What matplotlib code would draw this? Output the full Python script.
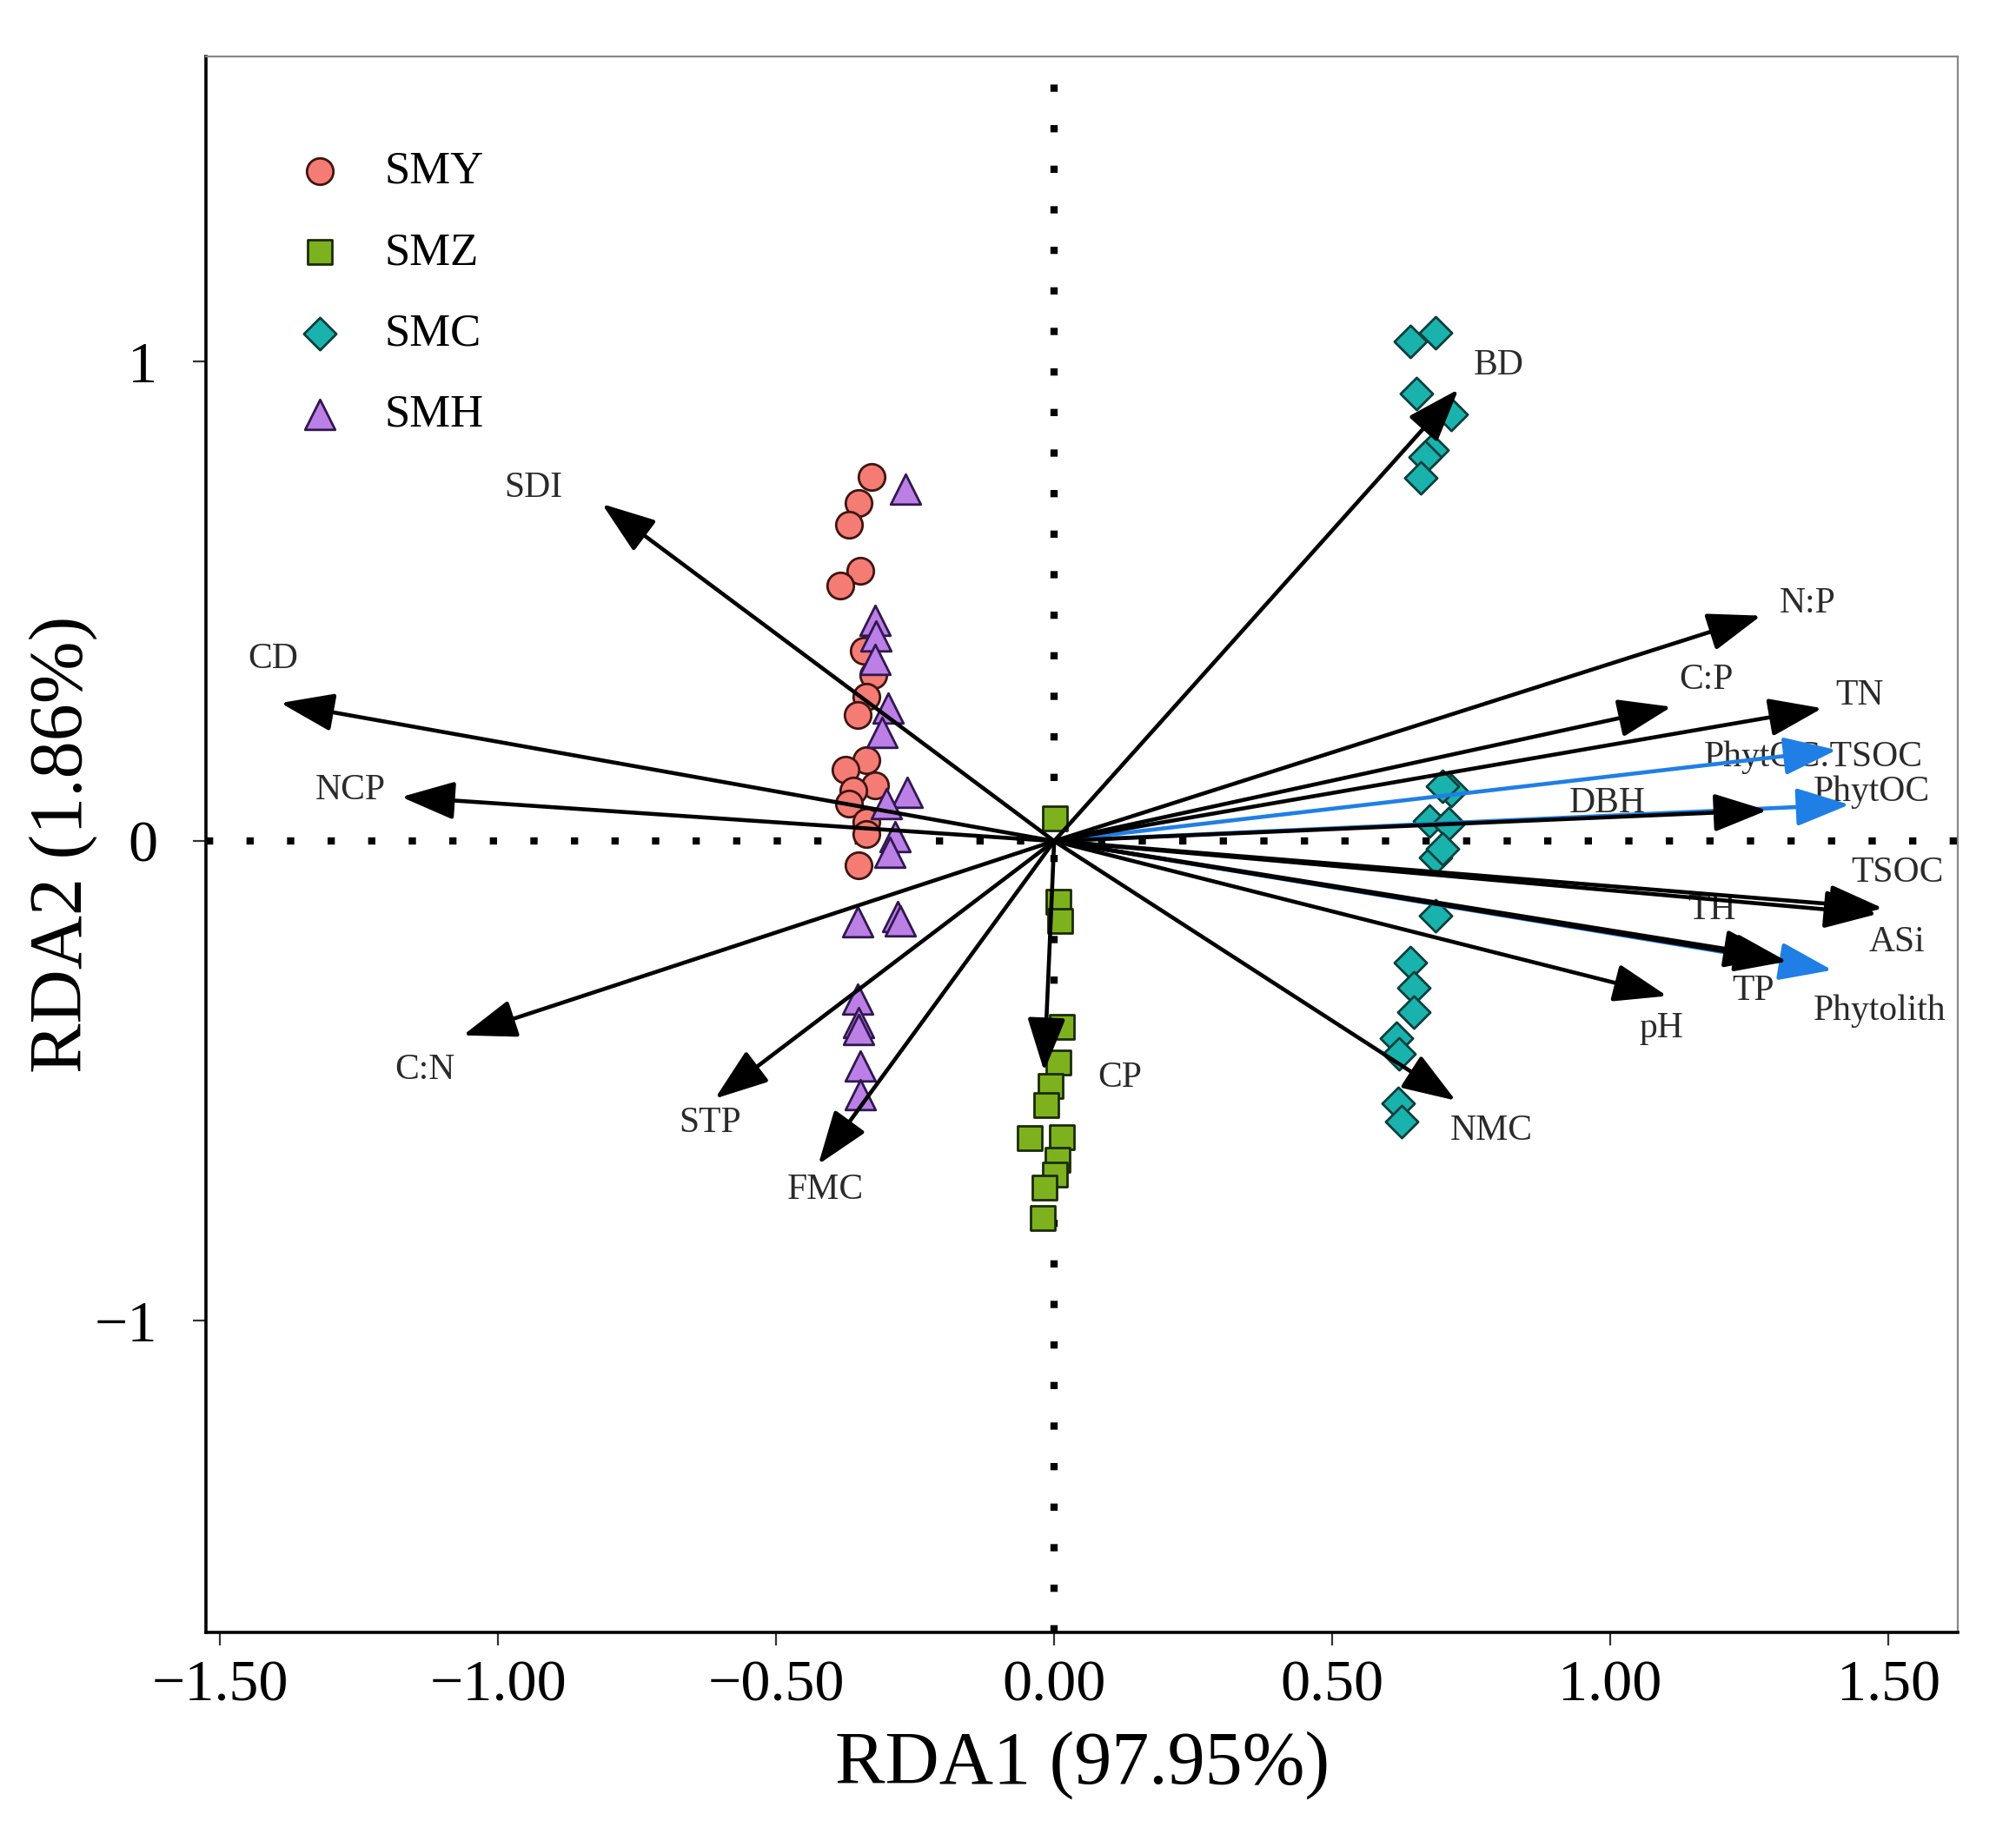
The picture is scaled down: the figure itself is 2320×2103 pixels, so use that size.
import matplotlib
matplotlib.use("Agg")
import matplotlib.pyplot as plt
from matplotlib.ticker import FixedLocator, FuncFormatter

plt.rcParams['font.family'] = ['Liberation Serif', 'DejaVu Serif']
plt.rcParams['axes.unicode_minus'] = True

# 样点得分 (RDA1, RDA2)
smy_x = [-0.328, -0.351, -0.369, -0.348, -0.385, -0.343, -0.325, -0.338, -0.354,
         -0.338, -0.375, -0.322, -0.361, -0.369, -0.338, -0.338, -0.351]
smy_y = [0.759, 0.705, 0.660, 0.563, 0.533, 0.397, 0.346, 0.301, 0.263,
         0.168, 0.149, 0.117, 0.105, 0.079, 0.041, 0.015, -0.051]

smz_x = [0.001, 0.008, 0.011, 0.014, 0.008, -0.007, -0.015, -0.044, 0.014,
         0.006, 0.001, -0.018, -0.020]
smz_y = [0.048, -0.127, -0.167, -0.387, -0.462, -0.511, -0.550, -0.620, -0.617,
         -0.665, -0.695, -0.722, -0.785]

smc_x = [0.641, 0.685, 0.652, 0.680, 0.667, 0.659, 0.714, 0.714, 0.698, 0.675,
         0.709, 0.685, 0.698, 0.685, 0.641, 0.646, 0.646, 0.615, 0.620, 0.618, 0.625]
smc_y = [1.042, 1.060, 0.933, 0.815, 0.800, 0.757, 0.890, 0.105, 0.114, 0.042,
         0.036, -0.034, -0.016, -0.155, -0.254, -0.305, -0.357, -0.411, -0.444,
         -0.547, -0.585]

smh_x = [-0.268, -0.322, -0.320, -0.322, -0.299, -0.309, -0.265, -0.302, -0.286,
         -0.296, -0.354, -0.281, -0.276, -0.353, -0.351, -0.351, -0.348, -0.348]
smh_y = [0.734, 0.460, 0.428, 0.378, 0.277, 0.226, 0.102, 0.079, 0.009,
         -0.023, -0.169, -0.158, -0.167, -0.330, -0.378, -0.393, -0.469, -0.529]

# 环境因子向量
vec_names = ['BD', 'SDI', 'CD', 'NCP', 'C:N', 'STP', 'FMC', 'CP', 'NMC', 'pH',
             'TH', 'TP', 'TSOC', 'ASi', 'DBH', 'TN', 'C:P', 'N:P',
             'PhytOC:TSOC', 'PhytOC', 'Phytolith']
vec_x = [0.727, -0.813, -1.391, -1.174, -1.063, -0.610, -0.424, -0.018, 0.722, 1.102,
         1.300, 1.318, 1.490, 1.480, 1.282, 1.381, 1.110, 1.271,
         1.407, 1.430, 1.399]
vec_y = [0.942, 0.703, 0.288, 0.092, -0.405, -0.537, -0.674, -0.480, -0.541, -0.323,
         -0.242, -0.251, -0.140, -0.152, 0.064, 0.277, 0.280, 0.470,
         0.190, 0.076, -0.269]
vec_blue = ['PhytOC:TSOC', 'PhytOC', 'Phytolith']
lab_x = [0.800, -0.936, -1.405, -1.266, -1.132, -0.619, -0.411, 0.118, 0.786, 1.091,
         1.183, 1.256, 1.516, 1.516, 0.995, 1.448, 1.172, 1.355,
         1.365, 1.469, 1.484]
lab_y = [0.991, 0.736, 0.379, 0.106, -0.478, -0.588, -0.728, -0.493, -0.604, -0.390,
         -0.145, -0.312, -0.067, -0.212, 0.078, 0.304, 0.335, 0.495,
         0.175, 0.103, -0.355]

x_ticks = [-1.5, -1.0, -0.5, 0.0, 0.5, 1.0, 1.5]
y_ticks = [-1, 0, 1]

fig = plt.figure(figsize=(23.2, 21.03), dpi=100)
ax = fig.add_axes([0.1022, 0.1065, 0.8690, 0.8626])

ax.axvline(0, color='black', lw=6, ls=(0, (1, 4.6)), dash_capstyle='butt', zorder=1)
ax.axhline(0, color='black', lw=6, ls=(0, (1, 4.6)), dash_capstyle='butt', zorder=1)

ax.scatter(smy_x, smy_y, s=480, marker='o', c='#f47c74', edgecolors='#3e1512',
           linewidths=2.0, label='SMY', zorder=3)
ax.scatter(smz_x, smz_y, s=380, marker='s', c='#7db21e', edgecolors='#1a2b00',
           linewidths=2.0, label='SMZ', zorder=3)
ax.scatter(smc_x, smc_y, s=360, marker='D', c='#1ab2ac', edgecolors='#0b403d',
           linewidths=2.0, label='SMC', zorder=3)
ax.scatter(smh_x, smh_y, s=620, marker='^', c='#bb7fe6', edgecolors='#301850',
           linewidths=2.0, label='SMH', zorder=3)

# 箭头: 先画蓝色再画黑色
order = [i for i, n in enumerate(vec_names) if n in vec_blue] + \
        [i for i, n in enumerate(vec_names) if n not in vec_blue]
for i in order:
    col = '#1f7fe5' if vec_names[i] in vec_blue else 'black'
    ax.annotate('', xy=(vec_x[i], vec_y[i]), xytext=(0, 0),
                arrowprops=dict(arrowstyle='-|>,head_length=1.9,head_width=0.68',
                                mutation_scale=20, lw=3.3, color=col,
                                shrinkA=0, shrinkB=0),
                zorder=4)
for i, n in enumerate(vec_names):
    ax.text(lab_x[i], lab_y[i], n, ha='center', va='center', fontsize=30,
            color='#2a2a2a', zorder=3.5)

ax.set_xlim(-1.525, 1.625)
ax.set_ylim(-1.650, 1.636)

ax.xaxis.set_major_locator(FixedLocator(x_ticks))
ax.yaxis.set_major_locator(FixedLocator(y_ticks))
ax.xaxis.set_major_formatter(FuncFormatter(lambda v, p: f"{v:.2f}".replace('-', '\u2212')))
ax.yaxis.set_major_formatter(FuncFormatter(lambda v, p: f"{v:.0f}".replace('-', '\u2212')))
ax.tick_params(axis='both', direction='out', length=11, width=1.6, labelsize=49,
               color='#333333')
ax.tick_params(axis='x', pad=12)
ax.tick_params(axis='y', pad=29)

for side in ['left', 'bottom']:
    ax.spines[side].set_linewidth(2.6)
    ax.spines[side].set_color('black')
for side in ['top', 'right']:
    ax.spines[side].set_linewidth(1.6)
    ax.spines[side].set_color('#888888')

ax.set_xlabel('RDA1 (97.95%)', fontsize=62)
ax.set_ylabel('RDA2 (1.86%)', fontsize=62)
ax.xaxis.set_label_coords(0.5, -0.062)
ax.yaxis.set_label_coords(-0.062, 0.5)

ax.legend(loc='upper left', bbox_to_anchor=(0.052, 0.94), frameon=False,
          fontsize=38, handlelength=1.0, handletextpad=0.9, labelspacing=0.86,
          borderpad=0, borderaxespad=0, scatterpoints=1)

fig.savefig('out.png', dpi=100)
